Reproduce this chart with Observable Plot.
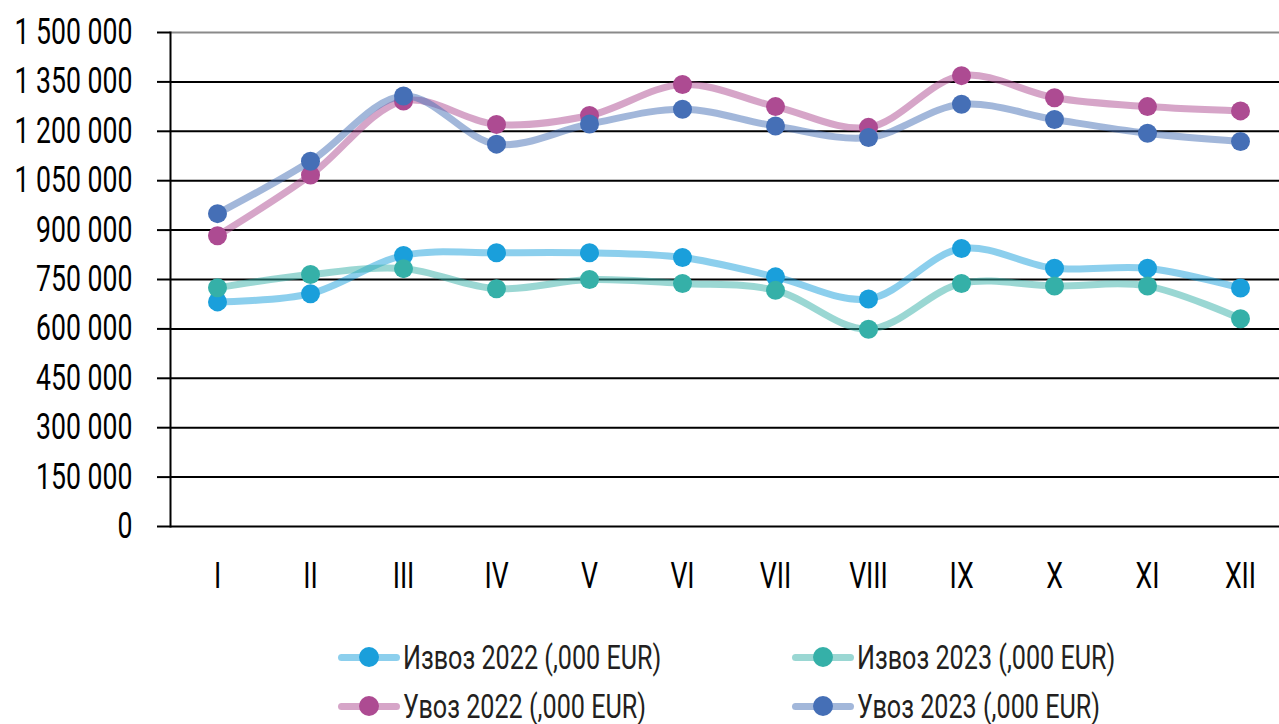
<!DOCTYPE html>
<html>
<head>
<meta charset="utf-8">
<script src="https://cdn.jsdelivr.net/npm/d3@7"></script>
<script src="https://cdn.jsdelivr.net/npm/@observablehq/plot@0.6"></script>
<style>
  html, body { margin: 0; padding: 0; background: #fff; }
  body { width: 1279px; height: 724px; overflow: hidden; position: relative;
         font-family: Roboto, "Liberation Sans", sans-serif; }
  #legend { position: relative; width: 1279px; height: 114px; }
  .item { position: absolute; display: flex; align-items: center; font-size: 34px; line-height: 0.9; color: #231f20; white-space: nowrap; }
  .sw { position: relative; width: 62px; height: 20px; margin-right: 3px; flex: none; }
  .sw .ln { position: absolute; left: 0; right: 0; top: 6.5px; height: 7px; border-radius: 4px; }
  .sw .dt { position: absolute; left: 21px; top: 0; width: 20px; height: 20px; border-radius: 50%; }
  .item span { display: inline-block; line-height: 0.9; transform: scaleX(0.74); transform-origin: left center; }
</style>
</head>
<body>
<div id="chart"></div>
<div id="legend"></div>
<script>
const months = ["I","II","III","IV","V","VI","VII","VIII","IX","X","XI","XII"];
const seriesNames = ["Извоз 2022 (,000 EUR)", "Извоз 2023 (,000 EUR)", "Увоз 2022 (,000 EUR)", "Увоз 2023 (,000 EUR)"];
const izvoz2022 = [682000, 707000, 823000, 831000, 831000, 817000, 758000, 691000, 844000, 784000, 784000, 724000];
const izvoz2023 = [725000, 765000, 783000, 722000, 750000, 738000, 717000, 599000, 738000, 730000, 730000, 631000];
const uvoz2022  = [883000, 1067000, 1292000, 1221000, 1248000, 1342000, 1275000, 1212000, 1369000, 1302000, 1275000, 1262000];
const uvoz2023  = [950000, 1109000, 1307000, 1161000, 1222000, 1267000, 1216000, 1181000, 1282000, 1236000, 1194000, 1169000];
const yTicks = [0, 150000, 300000, 450000, 600000, 750000, 900000, 1050000, 1200000, 1350000, 1500000];
const colors = ["#1a9fdb", "#35b0a8", "#ad4b92", "#456fb6"];

const allSeries = [izvoz2022, izvoz2023, uvoz2022, uvoz2023];
const data = allSeries.flatMap((vals, si) => vals.map((v, i) => ({month: months[i], value: v, series: seriesNames[si]})));

const fmt = v => d3.format(",")(v).replace(/,/g, " ");

const seriesMarks = seriesNames.flatMap((name, si) => {
  const d = data.filter(r => r.series === name);
  return [
    Plot.line(d, {x: "month", y: "value", stroke: colors[si], strokeWidth: 7, strokeOpacity: 0.5, curve: "catmull-rom"}),
    Plot.dot(d, {x: "month", y: "value", r: 9.5, fill: colors[si], stroke: "none"})
  ];
});

const chart = Plot.plot({
  width: 1279,
  height: 610,
  marginTop: 32,
  marginBottom: 84,
  marginLeft: 170,
  marginRight: 0,
  style: {fontFamily: "Roboto, 'Liberation Sans', sans-serif", fontSize: "36px", color: "#000", background: "#fff"},
  x: {type: "point", domain: months, range: [215, 1241], padding: 0, label: null},
  y: {domain: [0, 1500000], label: null},
  marks: [
    Plot.ruleY(yTicks.filter(t => t < 1500000), {stroke: "#000", strokeWidth: 2}),
    Plot.ruleY([1500000], {stroke: "#8a8a8a", strokeWidth: 2}),
    Plot.frame({anchor: "left", stroke: "#000", strokeWidth: 2}),
    Plot.axisY({ticks: yTicks, tickFormat: fmt, tickSize: 13, tickPadding: 25, strokeWidth: 2, stroke: "#000", fontSize: 36, label: null}),
    Plot.axisX({tickSize: 0, tickPadding: 36, fontSize: 36, label: null}),
    ...seriesMarks
  ]
});
document.getElementById("chart").appendChild(chart);

// condense axis text horizontally (reference uses a condensed face)
chart.querySelectorAll("text").forEach(t => {
  const L = t.getComputedTextLength();
  if (L > 0) {
    t.setAttribute("textLength", (L * 0.74).toFixed(1));
    t.setAttribute("lengthAdjust", "spacingAndGlyphs");
  }
});

// legend
const legend = document.getElementById("legend");
const pos = [[338, 47], [792, 47], [338, 96], [792, 96]];
seriesNames.forEach((name, si) => {
  const it = document.createElement("div");
  it.className = "item";
  it.style.left = pos[si][0] + "px";
  it.style.top = (pos[si][1] - 16) + "px";
  it.style.height = "32px";
  it.innerHTML = `<div class="sw"><div class="ln" style="background:${colors[si]};opacity:0.5"></div><div class="dt" style="background:${colors[si]}"></div></div><span>${name}</span>`;
  legend.appendChild(it);
});
</script>
</body>
</html>
